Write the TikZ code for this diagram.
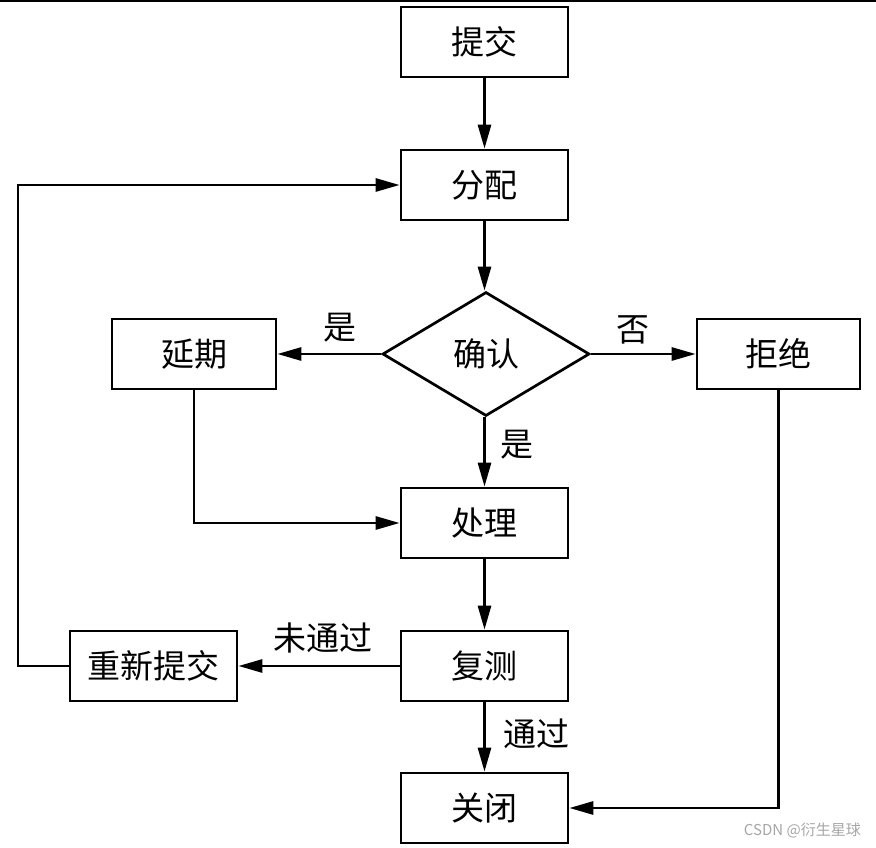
\documentclass[tikz,border=0pt]{standalone}
\usepackage{fontspec}
\newfontfamily\cjk{Noto Sans CJK SC}
\usetikzlibrary{arrows.meta,shapes.geometric}
\begin{document}
\begin{tikzpicture}[x=1pt,y=-1pt,
  txt/.style={font=\cjk\fontsize{33}{36}\selectfont},
  box/.style={txt, draw, line width=2.7pt, minimum width=167pt, minimum height=70pt, inner sep=0pt},
  dia/.style={txt, draw, shape=diamond, line width=2.7pt, minimum width=207pt, minimum height=124pt, inner sep=0pt},
  arr/.style={line width=2.8pt, -{Triangle[length=24pt,width=13pt]}},
  lbl/.style={txt, inner sep=0pt}]
\useasboundingbox (0,0) rectangle (876,848);
\draw[line width=2pt] (0,1) -- (876,1);
\node[box] (submit) at (484.5,42) {提交};
\node[box] (assign) at (484.5,185) {分配};
\node[dia] (confirm) at (486,354) {确认};
\node[box, minimum width=164pt] (delay) at (194,354) {延期};
\node[box, minimum width=163pt] (reject) at (778.5,354) {拒绝};
\node[box] (handle) at (484.5,523) {处理};
\node[box] (retest) at (484.5,666) {复测};
\node[box] (resubmit) at (153.5,666) {重新提交};
\node[box] (close) at (484.5,808) {关闭};
\coordinate (lx) at (18,0);
\draw[arr] (submit) -- (assign);
\draw[arr] (assign.south) -- (assign.south |- confirm.north);
\draw[arr] (confirm.west) -- node[lbl, pos=0.4, yshift=26pt] {是} (delay.east);
\draw[arr] (confirm.east) -- node[lbl, pos=0.4, yshift=24pt] {否} (reject.west);
\draw[arr] (confirm.south -| handle.north) -- node[lbl, pos=0.4, xshift=32pt] {是} (handle.north);
\draw[arr] (delay.south) |- (handle.west);
\draw[arr] (handle) -- (retest);
\draw[arr] (retest.west) -- node[lbl, xshift=4pt, yshift=28pt] {未通过} (resubmit.east);
\draw[arr] (resubmit.west) -- (resubmit.west -| lx) |- (assign.west);
\draw[arr] (retest) -- node[lbl, pos=0.45, xshift=52pt] {通过} (close);
\draw[arr] (reject.south) |- (close.east);
\node[font=\cjk\fontsize{15}{17}\selectfont, text=black!35, anchor=east, inner sep=0pt] (wm) at (861,830) {CSDN @衍生星球};
\end{tikzpicture}
\end{document}
